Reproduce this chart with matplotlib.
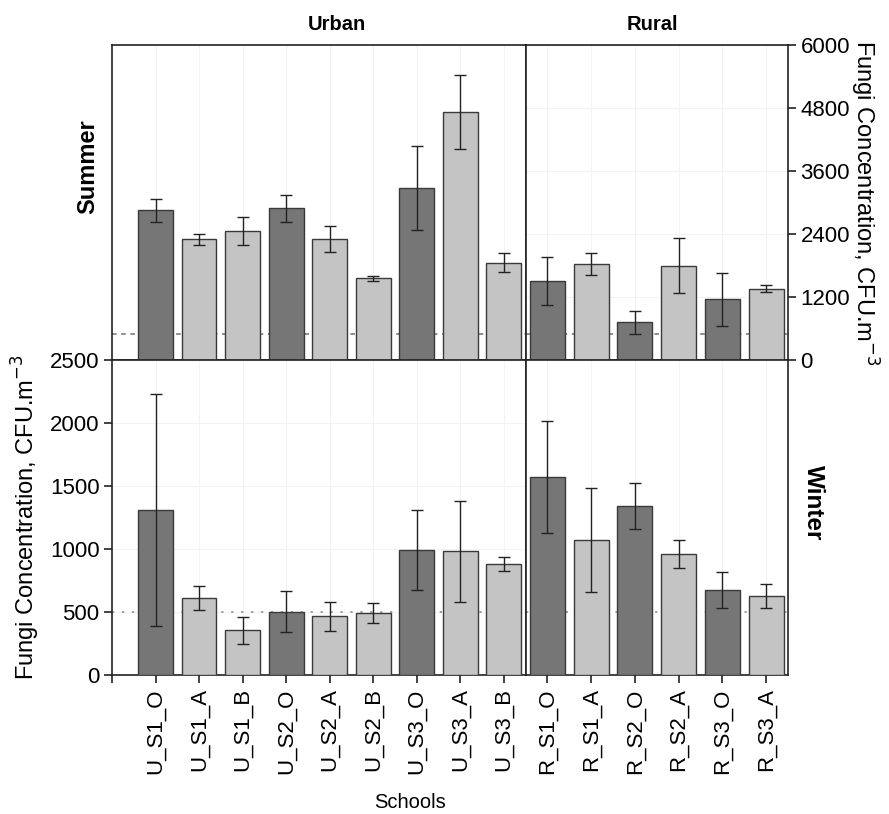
import numpy as np
import matplotlib
matplotlib.use('Agg')
import matplotlib.pyplot as plt

plt.rcParams['font.family'] = ['Liberation Sans', 'DejaVu Sans']

# school labels
urban_labels = ['U_S1_O', 'U_S1_A', 'U_S1_B', 'U_S2_O', 'U_S2_A', 'U_S2_B', 'U_S3_O', 'U_S3_A', 'U_S3_B']
rural_labels = ['R_S1_O', 'R_S1_A', 'R_S2_O', 'R_S2_A', 'R_S3_O', 'R_S3_A']

# summer (CFU/m3)
urban_summer = [2850, 2300, 2450, 2890, 2310, 1555, 3275, 4720, 1855]
urban_summer_err = [220, 100, 265, 260, 245, 50, 800, 705, 175]
rural_summer = [1505, 1820, 720, 1800, 1155, 1360]
rural_summer_err = [460, 210, 220, 525, 505, 65]

# winter (CFU/m3)
urban_winter = [1310, 608, 355, 503, 466, 489, 992, 982, 884]
urban_winter_err = [920, 95, 105, 165, 117, 80, 320, 402, 56]
rural_winter = [1570, 1070, 1338, 963, 677, 629]
rural_winter_err = [443, 415, 183, 112, 143, 95]

limit = 500  # reference line

dark = '#767676'
light = '#c4c4c4'


def bar_colors(labels):
    return [dark if lab.endswith('_O') else light for lab in labels]


fig = plt.figure(figsize=(8.89, 8.14), dpi=100)

W = 889.0
H = 814.0
x0, xm, x1 = 112 / W, 525.5 / W, 788 / W
ytop, ymid, ybot = 1 - 45 / H, 1 - 360 / H, 1 - 675 / H

ax_us = fig.add_axes([x0, ymid, xm - x0, ytop - ymid])
ax_rs = fig.add_axes([xm, ymid, x1 - xm, ytop - ymid])
ax_uw = fig.add_axes([x0, ybot, xm - x0, ymid - ybot])
ax_rw = fig.add_axes([xm, ybot, x1 - xm, ymid - ybot])

panels = [
    (ax_us, urban_labels, urban_summer, urban_summer_err, 'summer'),
    (ax_rs, rural_labels, rural_summer, rural_summer_err, 'summer'),
    (ax_uw, urban_labels, urban_winter, urban_winter_err, 'winter'),
    (ax_rw, rural_labels, rural_winter, rural_winter_err, 'winter'),
]

for ax, labels, vals, errs, season in panels:
    x = np.arange(len(labels))
    ax.bar(x, vals, width=0.8, color=bar_colors(labels), edgecolor='#3a3a3a',
           linewidth=1.0, zorder=3)
    ax.errorbar(x, vals, yerr=errs, fmt='none', ecolor='#222222', elinewidth=1.0,
                capsize=4, capthick=1.0, zorder=4)
    if season == 'summer':
        ax.set_ylim(0, 6000)
        ax.axhline(limit, color='#707070', lw=1.1, ls=(0, (3, 3)), zorder=2)
        ax.set_yticks(np.arange(0, 6001, 1200))
    else:
        ax.set_ylim(0, 2500)
        ax.axhline(limit, color='#888888', lw=1.1, ls=(0, (1.5, 5)), zorder=2)
        ax.set_yticks(np.arange(0, 2501, 500))
    # faint grid
    for xi in x:
        ax.axvline(xi, color='#f3f3f3', lw=0.8, zorder=0)
    ax.yaxis.grid(True, color='#f3f3f3', lw=0.8, zorder=0)
    ax.set_axisbelow(True)
    for sp in ax.spines.values():
        sp.set_linewidth(1.2)
        sp.set_color('#222222')
    ax.tick_params(direction='out', length=6, width=1.2, labelsize=16, color='#222222')

# x limits
for ax in (ax_us, ax_uw):
    ax.set_xlim(-1.0, 8.5)
for ax in (ax_rs, ax_rw):
    ax.set_xlim(-0.5, 5.5)

# top row: no x ticks
for ax in (ax_us, ax_rs):
    ax.set_xticks([])

# summer scale on the right of the rural panel
ax_us.set_yticks([])
ax_rs.yaxis.tick_right()
ax_rs.tick_params(axis='y', labelsize=16, pad=3)
ax_rs.yaxis.set_label_position('right')
ax_rs.set_ylabel('Fungi Concentration, CFU.m$^{-3}$', fontsize=17, rotation=-90,
                 labelpad=22)

# winter scale on the left of the urban panel
ax_rw.set_yticks([])
ax_uw.tick_params(axis='y', pad=3)
ax_uw.set_ylabel('Fungi Concentration, CFU.m$^{-3}$', fontsize=17, labelpad=6)

# bottom x ticks
ax_uw.set_xticks([-1] + list(range(len(urban_labels))))
ax_uw.set_xticklabels([''] + urban_labels, rotation=90, fontsize=16)
ax_rw.set_xticks(range(len(rural_labels)))
ax_rw.set_xticklabels(rural_labels, rotation=90, fontsize=16)

fig.text(410 / W, 1 - 802 / H, 'Schools', ha='center', va='center', fontsize=14.5)

fig.text(337 / W, 1 - 25 / H, 'Urban', ha='center', va='center', fontsize=14.5,
         fontweight='bold')
fig.text(652 / W, 1 - 25 / H, 'Rural', ha='center', va='center', fontsize=14.5,
         fontweight='bold')
fig.text(88 / W, 1 - 167 / H, 'Summer', ha='center', va='center', fontsize=17,
         fontweight='bold', rotation=90)
fig.text(813 / W, 1 - 503 / H, 'Winter', ha='center', va='center', fontsize=17.5,
         fontweight='bold', rotation=-90)

fig.savefig('out.png', dpi=100, facecolor='white')
